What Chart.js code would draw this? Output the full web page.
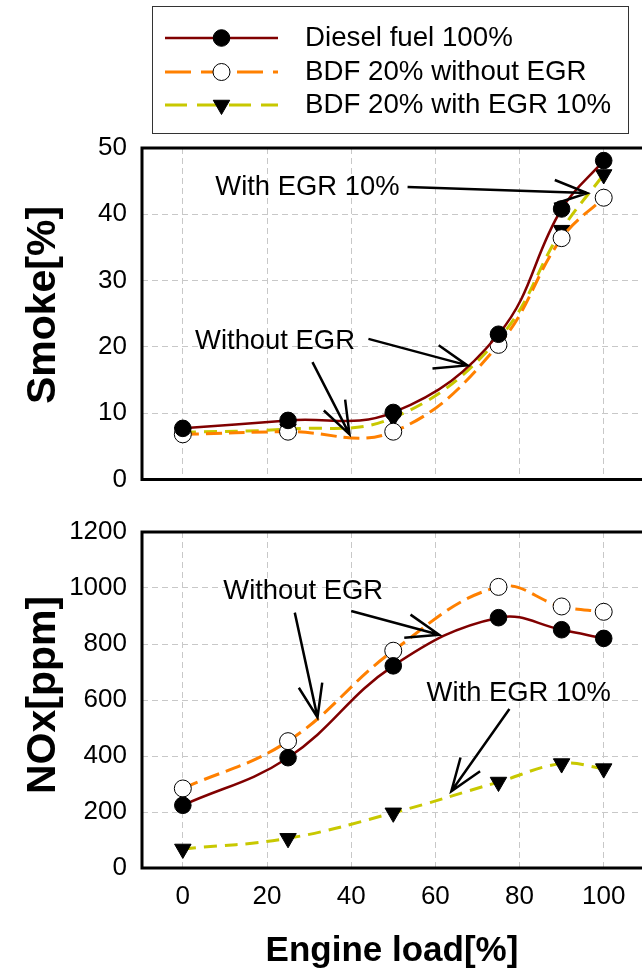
<!DOCTYPE html>
<html>
<head>
<meta charset="utf-8">
<script src="https://cdn.jsdelivr.net/npm/chart.js@4.4.1/dist/chart.umd.min.js"></script>
<style>
    html, body { margin: 0; padding: 0; background: #fff; }
    body { width: 642px; height: 976px; overflow: hidden; position: relative; }
    canvas { position: absolute; left: 0; }
    #smoke_chart { top: 0; }
    #nox_chart { top: 500px; }
</style>
</head>
<body>
<canvas id="smoke_chart" width="642" height="510"></canvas>
<canvas id="nox_chart" width="642" height="476"></canvas>
<script>
// Engine load [%]
const loads = [0, 25, 50, 75, 90, 100];
const xTicks = [0, 20, 40, 60, 80, 100];
const seriesLabels = ["Diesel fuel 100%", "BDF 20% without EGR", "BDF 20% with EGR 10%"];

// Smoke [%]
const smokeDiesel = [7.7, 8.9, 10.1, 21.9, 40.8, 48.1];
const smokeBdf = [6.8, 7.2, 7.2, 20.3, 36.4, 42.5];
const smokeBdfEgr = [7.1, 7.6, 9.3, 21.2, 37.6, 46.0];
const smokeTicks = [0, 10, 20, 30, 40, 50];

// NOx [ppm]
const noxDiesel = [224, 394, 722, 894, 851, 820];
const noxBdf = [284, 453, 776, 1004, 934, 915];
const noxBdfEgr = [68, 106, 197, 307, 373, 355];
const noxTicks = [0, 200, 400, 600, 800, 1000, 1200];

const FONT = '"Liberation Sans", Arial, sans-serif';

function makeDatasets(diesel, bdf, bdfEgr) {
    return [
        {
            label: seriesLabels[0], data: diesel.map((v, i) => ({ x: loads[i], y: v })),
            borderColor: "#800000", borderWidth: 2.5, tension: 0.4,
            pointStyle: "circle", pointRadius: 8.3, pointBackgroundColor: "#000", pointBorderColor: "#000",
            pointBorderWidth: 1, legendDash: []
        },
        {
            label: seriesLabels[1], data: bdf.map((v, i) => ({ x: loads[i], y: v })),
            borderColor: "#ff8000", borderWidth: 3, borderDash: [16, 7], tension: 0.4,
            pointStyle: "circle", pointRadius: 8.5, pointBackgroundColor: "#fff", pointBorderColor: "#000",
            pointBorderWidth: 1, legendDash: [26, 10]
        },
        {
            label: seriesLabels[2], data: bdfEgr.map((v, i) => ({ x: loads[i], y: v })),
            borderColor: "#c8c800", borderWidth: 3, borderDash: [13, 8], tension: 0.4,
            pointStyle: "triangle", pointRotation: 180, pointRadius: 9.5, pointBackgroundColor: "#000",
            pointBorderColor: "#000", pointBorderWidth: 1, legendDash: [22, 10]
        }
    ];
}

function drawArrow(ctx, x1, y1, x2, y2) {
    const ang = Math.atan2(y2 - y1, x2 - x1);
    const len = 35, spread = Math.PI / 9;
    ctx.beginPath();
    ctx.moveTo(x1, y1);
    ctx.lineTo(x2, y2);
    ctx.moveTo(x2 - len * Math.cos(ang - spread), y2 - len * Math.sin(ang - spread));
    ctx.lineTo(x2, y2);
    ctx.lineTo(x2 - len * Math.cos(ang + spread), y2 - len * Math.sin(ang + spread));
    ctx.stroke();
}

// frame, arrows, notes, y title and (top chart only) the boxed legend
const decorPlugin = {
    id: "decor",
    afterDraw(chart, args, opts) {
        const { ctx, chartArea: a, scales: { x, y } } = chart;
        ctx.save();

        ctx.strokeStyle = "#000";
        ctx.lineWidth = 3;
        ctx.beginPath();
        ctx.moveTo(a.right + 5, a.top);
        ctx.lineTo(a.left, a.top);
        ctx.lineTo(a.left, a.bottom);
        ctx.lineTo(a.right + 5, a.bottom);
        ctx.stroke();

        ctx.fillStyle = "#000";
        ctx.font = `27.4px ${FONT}`;
        ctx.textAlign = "center";
        ctx.textBaseline = "middle";
        (opts.notes || []).forEach(n => ctx.fillText(n.text, x.getPixelForValue(n.x), y.getPixelForValue(n.y)));

        ctx.lineWidth = 2.5;
        (opts.arrows || []).forEach(r => drawArrow(ctx,
            x.getPixelForValue(r[0]), y.getPixelForValue(r[1]),
            x.getPixelForValue(r[2]), y.getPixelForValue(r[3])));

        if (opts.yTitle) {
            ctx.save();
            ctx.translate(opts.yTitle.cx, opts.yTitle.cy);
            ctx.rotate(-Math.PI / 2);
            ctx.font = `bold 41px ${FONT}`;
            ctx.fillText(opts.yTitle.text, 0, 0);
            ctx.restore();
        }

        if (opts.legend) {
            const L = opts.legend;
            ctx.lineWidth = 1;
            ctx.strokeStyle = "#333";
            ctx.strokeRect(L.left + 0.5, L.top + 0.5, L.width, L.height);
            chart.data.datasets.forEach((ds, i) => {
                const ry = L.rows[i];
                ctx.strokeStyle = ds.borderColor;
                ctx.lineWidth = ds.borderWidth;
                ctx.setLineDash(ds.legendDash);
                ctx.beginPath();
                ctx.moveTo(L.lineX1, ry);
                ctx.lineTo(L.lineX2, ry);
                ctx.stroke();
                ctx.setLineDash([]);
                ctx.fillStyle = ds.pointBackgroundColor;
                ctx.strokeStyle = ds.pointBorderColor;
                ctx.lineWidth = ds.pointBorderWidth;
                Chart.helpers.drawPoint(ctx, {
                    pointStyle: ds.pointStyle, radius: ds.pointRadius,
                    rotation: ds.pointRotation || 0, borderWidth: ds.pointBorderWidth
                }, (L.lineX1 + L.lineX2) / 2, ry);
                ctx.fillStyle = "#000";
                ctx.font = `27.7px ${FONT}`;
                ctx.textAlign = "left";
                ctx.fillText(ds.label, L.textX, ry);
            });
        }
        ctx.restore();
    }
};

function makeScales(yMax, yTickValues, showX) {
    return {
        x: {
            type: "linear", min: -9.7, max: 109.1,
            afterBuildTicks: s => { s.ticks = xTicks.map(v => ({ value: v })); },
            afterFit: s => { s.height = showX ? 108 : 0; },
            grid: { color: "#c8c8c8", lineWidth: 1, drawTicks: false },
            border: { display: false, dash: [6, 4] },
            ticks: {
                display: showX, padding: 13, color: "#000", maxRotation: 0,
                font: { family: FONT, size: 26 }, callback: v => String(v)
            },
            title: {
                display: showX, text: "Engine load[%]", color: "#000",
                font: { family: FONT, size: 35, weight: "bold" }, padding: { top: 0, bottom: 4 }
            }
        },
        y: {
            type: "linear", min: 0, max: yMax,
            afterBuildTicks: s => { s.ticks = yTickValues.map(v => ({ value: v })); },
            afterFit: s => { s.width = 142; },
            grid: { color: "#c8c8c8", lineWidth: 1, drawTicks: false },
            border: { display: false, dash: [6, 4] },
            ticks: { padding: 15, color: "#000", font: { family: FONT, size: 26 }, callback: v => String(v) }
        }
    };
}

const baseOptions = {
    responsive: false,
    animation: false,
    devicePixelRatio: 1,
    plugins: { legend: { display: false }, tooltip: { enabled: false } }
};

new Chart(document.getElementById("smoke_chart"), {
    type: "line",
    data: { datasets: makeDatasets(smokeDiesel, smokeBdf, smokeBdfEgr) },
    options: {
        ...baseOptions,
        layout: { autoPadding: false, padding: { top: 148, left: 0, right: 0, bottom: 25 } },
        scales: makeScales(50, smokeTicks, false),
        plugins: {
            ...baseOptions.plugins,
            decor: {
                notes: [{ text: "With EGR 10%", x: 29.6, y: 44.1 }, { text: "Without EGR", x: 21.9, y: 20.8 }],
                arrows: [[53.4, 44.1, 96.1, 43.2], [44.1, 21.2, 67.6, 17.2], [30.8, 17.7, 39.6, 6.8]],
                yTitle: { text: "Smoke[%]", cx: 44, cy: 305 },
                legend: {
                    left: 152, top: 6, width: 476, height: 127, rows: [38, 72, 105],
                    lineX1: 165, lineX2: 278, textX: 305
                }
            }
        }
    },
    plugins: [decorPlugin]
});

new Chart(document.getElementById("nox_chart"), {
    type: "line",
    data: { datasets: makeDatasets(noxDiesel, noxBdf, noxBdfEgr) },
    options: {
        ...baseOptions,
        layout: { autoPadding: false, padding: { top: 32, left: 0, right: 0, bottom: 0 } },
        scales: makeScales(1200, noxTicks, true),
        plugins: {
            ...baseOptions.plugins,
            decor: {
                notes: [{ text: "Without EGR", x: 28.6, y: 989 }, { text: "With EGR 10%", x: 79.8, y: 623 }],
                arrows: [[26.6, 912, 32.0, 538], [40.0, 918, 60.9, 833], [77.6, 568, 63.8, 274]],
                yTitle: { text: "NOx[ppm]", cx: 44, cy: 195 }
            }
        }
    },
    plugins: [decorPlugin]
});
</script>
</body>
</html>
